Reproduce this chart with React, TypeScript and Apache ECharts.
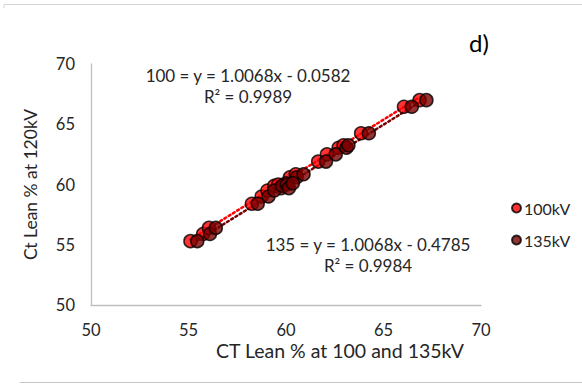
import React, { useEffect, useRef } from "react";
import * as echarts from "echarts";

// CT lean % per sample: x at 100 kV and 135 kV, y at 120 kV
const lean120 = [55.3, 55.9, 56.4, 58.4, 59.0, 59.5, 59.9, 60.0, 59.7, 60.6, 60.85, 60.1, 61.9, 62.5, 63.05, 63.25, 64.25, 66.45, 67.0];
const lean100 = [55.1, 55.75, 56.05, 58.25, 58.75, 59.05, 59.4, 59.6, 59.75, 60.2, 60.5, 60.0, 61.65, 62.1, 62.7, 62.95, 63.85, 66.05, 66.85];
const lean135 = [55.45, 56.1, 56.4, 58.55, 59.1, 59.4, 59.8, 60.05, 60.15, 60.55, 60.9, 60.35, 62.05, 62.55, 63.1, 63.2, 64.25, 66.45, 67.2];

// Linear fit coefficients shown in the annotations
const fit100 = { slope: 1.0068, intercept: -0.0582, r2: 0.9989 };
const fit135 = { slope: 1.0068, intercept: -0.4785, r2: 0.9984 };

const seriesNames = ["100kV", "135kV"];
const xTicks = [50, 55, 60, 65, 70];

const FONT = "Lato, 'Open Sans', sans-serif";
const RED = "#ff0000";
const DARK = "#7a0000";

function trend(xs: number[], fit: { slope: number; intercept: number }) {
  const lo = Math.min(...xs);
  const hi = Math.max(...xs);
  return [
    [lo, fit.slope * lo + fit.intercept],
    [hi, fit.slope * hi + fit.intercept],
  ];
}

function fmtFit(label: string, fit: { slope: number; intercept: number }) {
  const sign = fit.intercept < 0 ? "-" : "+";
  return `${label} = y = ${fit.slope.toFixed(4)}x ${sign} ${Math.abs(fit.intercept).toFixed(4)}`;
}

export default function App() {
  const ref = useRef<HTMLDivElement>(null);

  useEffect(() => {
    if (!ref.current) return;
    const chart = echarts.init(ref.current, undefined, { renderer: "svg" });
    const marker = (color: string) => ({
      color,
      borderColor: "#000",
      borderWidth: 1.5,
    });
    chart.setOption({
      animation: false,
      textStyle: { fontFamily: FONT },
      grid: { left: 91, top: 64, right: 101, bottom: 80, containLabel: false },
      xAxis: {
        type: "value",
        min: xTicks[0],
        max: xTicks[xTicks.length - 1],
        interval: 5,
        axisLine: { show: true, lineStyle: { color: "#bfbfbf", width: 1.3 } },
        axisTick: { show: false },
        splitLine: { show: false },
        axisLabel: { color: "#262626", fontSize: 16.5, fontFamily: FONT, margin: 16 },
      },
      yAxis: {
        type: "value",
        min: 50,
        max: 70,
        interval: 5,
        name: "Ct Lean % at 120kV",
        nameLocation: "middle",
        nameGap: 52,
        nameTextStyle: { color: "#262626", fontSize: 17.5, fontFamily: FONT },
        axisLine: { show: true, lineStyle: { color: "#bfbfbf", width: 1.3 } },
        axisTick: { show: false },
        splitLine: { show: false },
        axisLabel: { color: "#262626", fontSize: 16.5, fontFamily: FONT, margin: 16 },
      },
      legend: {
        orient: "vertical",
        left: 506,
        top: 195,
        itemGap: 16,
        itemWidth: 9,
        itemHeight: 9,
        icon: "circle",
        textStyle: { color: "#262626", fontSize: 16, fontFamily: FONT, padding: [0, 0, 0, -2] },
        data: seriesNames,
      },
      series: [
        {
          name: "trend100",
          type: "line",
          data: trend(lean100, fit100),
          symbol: "none",
          silent: true,
          lineStyle: { color: RED, width: 2.5, type: [2, 3], cap: "round" },
          z: 1,
        },
        {
          name: "trend135",
          type: "line",
          data: trend(lean135, fit135),
          symbol: "none",
          silent: true,
          lineStyle: { color: DARK, width: 2.5, type: [2, 3], cap: "round" },
          z: 1,
        },
        {
          name: seriesNames[0],
          type: "scatter",
          symbolSize: 13,
          data: lean100.map((x, i) => [x, lean120[i]]),
          itemStyle: marker(RED),
          z: 2,
        },
        {
          name: seriesNames[1],
          type: "scatter",
          symbolSize: 13,
          data: lean135.map((x, i) => [x, lean120[i]]),
          itemStyle: marker(DARK),
          z: 3,
        },
      ],
      graphic: [
        { type: "line", shape: { x1: 4, y1: 4.5, x2: 582, y2: 4.5 }, style: { stroke: "#d4d4d4", lineWidth: 1 } },
        { type: "line", shape: { x1: 4, y1: 4.5, x2: 4, y2: 8 }, style: { stroke: "#d4d4d4", lineWidth: 1 } },
        { type: "line", shape: { x1: 20, y1: 382.5, x2: 582, y2: 382.5 }, style: { stroke: "#c4c4c4", lineWidth: 1.2 } },
        {
          type: "text",
          x: 469,
          y: 30,
          style: { text: "d)", fontSize: 24, fontFamily: FONT, fill: "#000" },
        },
        {
          type: "text",
          x: 248,
          y: 65,
          style: {
            text: fmtFit("100", fit100) + "\nR² = " + fit100.r2.toFixed(4),
            align: "center",
            fontSize: 17,
            lineHeight: 21,
            fontFamily: FONT,
            fill: "#262626",
          },
        },
        {
          type: "text",
          x: 368,
          y: 234,
          style: {
            text: fmtFit("135", fit135) + "\nR² = " + fit135.r2.toFixed(4),
            align: "center",
            fontSize: 17,
            lineHeight: 21,
            fontFamily: FONT,
            fill: "#262626",
          },
        },
        {
          type: "text",
          x: 340,
          y: 340,
          style: {
            text: "CT Lean % at 100 and 135kV",
            align: "center",
            fontSize: 19.5,
            fontFamily: FONT,
            fill: "#262626",
          },
        },
      ],
    });
    return () => chart.dispose();
  }, []);

  return <div ref={ref} style={{ width: 582, height: 385, position: "absolute", left: 0, top: 0 }} />;
}
